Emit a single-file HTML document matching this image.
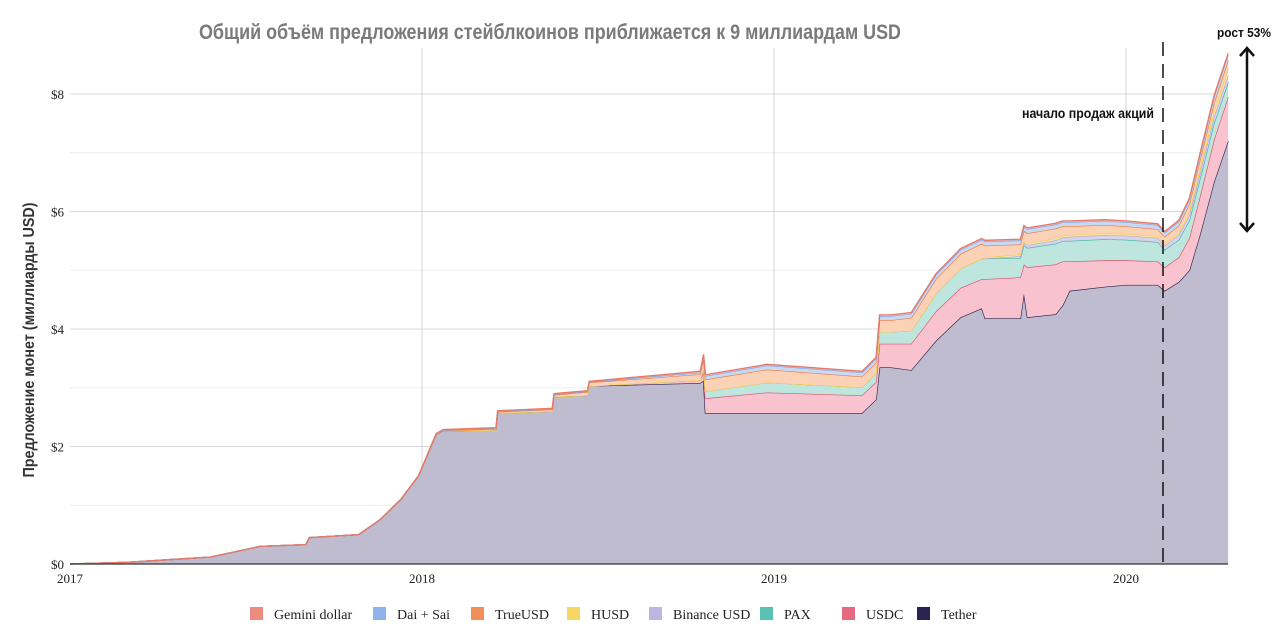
<!DOCTYPE html>
<html><head><meta charset="utf-8"><style>
body{margin:0;background:#fff}
svg{display:block}
text{font-family:"Liberation Sans","DejaVu Sans",sans-serif}
.ser{font-family:"Liberation Serif",serif}
</style></head><body>
<svg id="chart" width="1280" height="640" viewBox="0 0 1280 640">
<text x="550" y="39" text-anchor="middle" font-size="21" font-weight="bold" fill="#7a7a7a" textLength="702" lengthAdjust="spacingAndGlyphs">Общий объём предложения стейблкоинов приближается к 9 миллиардам USD</text>
<text transform="translate(34,340) rotate(-90)" text-anchor="middle" font-size="16" font-weight="bold" fill="#333" textLength="275" lengthAdjust="spacingAndGlyphs">Предложение монет (миллиарды USD)</text>
<g id="grid"></g><g id="areas"></g><g id="axes"></g>
<line x1="1163" y1="42" x2="1163" y2="564" stroke="#111" stroke-width="1.5" stroke-dasharray="14,8"/>
<text x="1154" y="118" text-anchor="end" font-size="14" font-weight="bold" fill="#111" textLength="132" lengthAdjust="spacingAndGlyphs">начало продаж акций</text>
<text x="1244" y="37" text-anchor="middle" font-size="13" font-weight="bold" fill="#111" textLength="54" lengthAdjust="spacingAndGlyphs">рост 53%</text>
<g stroke="#111" stroke-width="2.5" fill="none">
<line x1="1247" y1="48" x2="1247" y2="231"/><polyline points="1240,56 1247,48 1254,56"/><polyline points="1240,223 1247,231 1254,223"/></g>
<g id="legend"></g>
</svg>
<script>
const times=[2017.0,2017.17,2017.4,2017.54,2017.67,2017.68,2017.82,2017.88,2017.94,2017.99,2018.04,2018.06,2018.21,2018.215,2018.37,2018.375,2018.47,2018.475,2018.79,2018.8,2018.805,2018.98,2019.25,2019.29,2019.3,2019.33,2019.39,2019.46,2019.53,2019.59,2019.6,2019.7,2019.71,2019.72,2019.8,2019.82,2019.84,2019.94,2020.0,2020.09,2020.11,2020.15,2020.18,2020.21,2020.25,2020.29];
const tether=[0,0.03,0.12,0.3,0.33,0.45,0.5,0.75,1.1,1.5,2.2,2.27,2.28,2.57,2.6,2.85,2.87,3.03,3.08,3.12,2.57,2.57,2.57,2.8,3.35,3.35,3.3,3.8,4.2,4.35,4.18,4.18,4.6,4.2,4.25,4.4,4.65,4.72,4.75,4.75,4.65,4.8,5.0,5.6,6.5,7.2];
const usdc=[0,0,0,0,0,0,0,0,0,0,0,0,0,0,0,0,0,0,0.05,0.15,0.25,0.35,0.3,0.3,0.4,0.4,0.45,0.5,0.5,0.5,0.67,0.7,0.5,0.85,0.85,0.75,0.5,0.45,0.42,0.4,0.4,0.42,0.55,0.65,0.72,0.75];
const pax=[0,0,0,0,0,0,0,0,0,0,0,0,0,0,0,0,0,0,0,0.08,0.12,0.17,0.14,0.15,0.2,0.2,0.22,0.3,0.33,0.35,0.35,0.33,0.33,0.33,0.35,0.35,0.35,0.36,0.35,0.33,0.3,0.3,0.3,0.3,0.28,0.25];
const binance=[0,0,0,0,0,0,0,0,0,0,0,0,0,0,0,0,0,0,0,0,0,0,0,0,0,0,0,0,0,0,0,0.03,0.04,0.05,0.06,0.06,0.07,0.07,0.07,0.07,0.07,0.08,0.09,0.1,0.11,0.12];
const husd=[0,0,0,0,0,0,0,0,0,0,0,0,0,0,0,0,0,0,0,0,0,0,0,0,0,0,0,0,0,0,0.02,0.03,0.03,0.03,0.03,0.03,0.03,0.03,0.03,0.03,0.03,0.03,0.05,0.07,0.09,0.1];
const trueusd=[0,0,0,0,0,0,0,0,0,0,0,0,0.02,0.02,0.03,0.03,0.06,0.06,0.1,0.15,0.2,0.22,0.18,0.18,0.2,0.2,0.22,0.25,0.25,0.25,0.2,0.17,0.17,0.17,0.17,0.16,0.15,0.14,0.13,0.12,0.12,0.13,0.14,0.15,0.15,0.15];
const dai=[0,0,0,0,0,0,0,0,0,0,0.01,0.01,0.01,0.01,0.01,0.01,0.01,0.01,0.03,0.05,0.06,0.07,0.07,0.07,0.07,0.07,0.07,0.07,0.07,0.07,0.07,0.07,0.07,0.07,0.07,0.07,0.07,0.07,0.07,0.07,0.07,0.07,0.08,0.09,0.1,0.1];
const gemini=[0,0,0,0,0,0,0,0,0,0,0.01,0.01,0.01,0.01,0.01,0.01,0.01,0.01,0.02,0.02,0.02,0.02,0.02,0.02,0.02,0.02,0.02,0.02,0.02,0.02,0.02,0.02,0.02,0.02,0.02,0.02,0.02,0.02,0.02,0.02,0.02,0.02,0.02,0.02,0.02,0.02];
const yTicks=[0,2,4,6,8];
const yTickLabels=["$0","$2","$4","$6","$8"];
const xTicks=[2017,2018,2019,2020];
const seriesNames=["Tether","USDC","PAX","Binance USD","HUSD","TrueUSD","Dai + Sai","Gemini dollar"];
const seriesData=[tether,usdc,pax,binance,husd,trueusd,dai,gemini];
const fills=["#bfbccf","#f8c3cf","#bfe6de","#d9d2ec","#fbe8ac","#fcd2b6","#c9d8f3","#f7c6be"];
const strokes=["#2b2452","#e0506a","#3db7a6","#b3a8da","#f3cf47","#ee7a3a","#7aa4e8","#e87868"];
const NS="http://www.w3.org/2000/svg";
const X=t=>70+352*(t-2017), Y=v=>564-58.75*v;
function mk(tag,attrs,parent){const e=document.createElementNS(NS,tag);for(const k in attrs)e.setAttribute(k,attrs[k]);parent.appendChild(e);return e;}
const grid=document.getElementById('grid'),areas=document.getElementById('areas'),axes=document.getElementById('axes'),legend=document.getElementById('legend');
for(let v=1;v<=8;v++){const l=mk('line',{x1:70,x2:1228,y1:Y(v),y2:Y(v),stroke:v%2?'#eeeeee':'#d8d8d8','stroke-width':1},grid);

}
xTicks.forEach(t=>{if(t>2017){const l=mk('line',{x1:X(t),x2:X(t),y1:48,y2:564,stroke:'#d4d4d4','stroke-width':1},grid);

}});
let base=times.map(()=>0);
seriesData.forEach((s,i)=>{
 const top=base.map((b,j)=>b+s[j]);
 let d='M'+times.map((t,j)=>X(t).toFixed(1)+','+Y(top[j]).toFixed(1)).join('L');
 for(let j=times.length-1;j>=0;j--)d+='L'+X(times[j]).toFixed(1)+','+Y(base[j]).toFixed(1);
 const a=mk('path',{d:d+'Z',fill:fills[i]},areas);
 
 
 const ln=mk('path',{d:'M'+times.map((t,j)=>X(t).toFixed(1)+','+Y(top[j]).toFixed(1)).join('L'),fill:'none',stroke:strokes[i],'stroke-width':1.3},areas);
 
 
 base=top;
});
const ax=mk('line',{x1:70,x2:1228,y1:564,y2:564,stroke:'#333','stroke-width':1.2},axes);


yTicks.forEach((v,i)=>{const t=mk('text',{x:64,y:Y(v)+5,'text-anchor':'end','font-size':13,fill:'#222',class:'ser'},axes);t.textContent=yTickLabels[i];

});
xTicks.forEach(v=>{const t=mk('text',{x:X(v),y:583,'text-anchor':'middle','font-size':13,fill:'#222',class:'ser'},axes);t.textContent=String(v);

});
const legX=[250,373,471,567,649,760,842,917];
const legOrder=[7,6,5,4,3,2,1,0];
legOrder.forEach((si,k)=>{const g=mk('g',{},legend);


mk('rect',{x:legX[k],y:607,width:13,height:13,fill:strokes[si],opacity:si===0?1:0.85},g);
const t=mk('text',{x:legX[k]+24,y:619,'font-size':14,fill:'#222',class:'ser'},g);t.textContent=seriesNames[si];});
</script>
</body></html>
